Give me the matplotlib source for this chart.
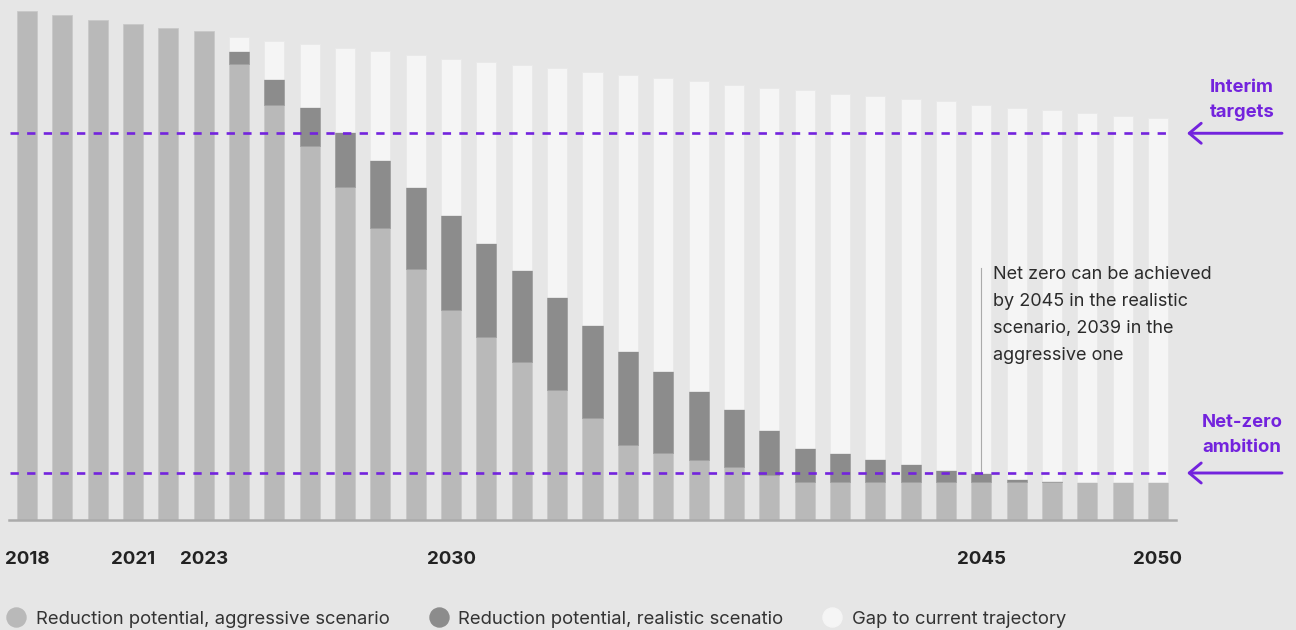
import matplotlib
matplotlib.use("Agg")
import matplotlib.pyplot as plt
from matplotlib.lines import Line2D
import numpy as np

plt.rcParams['font.family'] = ['Inter', 'DejaVu Sans']

# ---------------- data (index, 2018 = 100) ----------------
years = list(range(2018, 2051))
total = [100.0, 99.3, 98.2, 97.5, 96.8, 96.1, 94.9, 94.2, 93.5, 92.8, 92.1,
         91.4, 90.6, 90.0, 89.4, 88.8, 88.1, 87.5, 86.9, 86.3, 85.5, 84.9,
         84.5, 83.7, 83.3, 82.7, 82.3, 81.6, 81.0, 80.6, 80.0, 79.4, 79.0]
realistic = [100.0, 99.3, 98.2, 97.5, 96.8, 96.1, 92.1, 86.7, 81.2, 76.2, 70.7,
             65.4, 59.9, 54.5, 49.1, 43.7, 38.3, 33.2, 29.3, 25.3, 21.7, 17.7,
             14.1, 13.1, 12.0, 10.9, 9.8, 9.2, 8.0, 7.6, 7.3, 7.3, 7.3]
aggressive = [100.0, 99.3, 98.2, 97.5, 96.8, 96.1, 89.6, 81.6, 73.4, 65.4, 57.4,
              49.2, 41.2, 35.9, 30.9, 25.4, 20.0, 14.6, 13.1, 11.7, 10.3, 8.8,
              7.3, 7.3, 7.3, 7.3, 7.3, 7.3, 7.3, 7.3, 7.3, 7.3, 7.3]
tick_years = [2018, 2021, 2023, 2030, 2045, 2050]
interim_target = 76.0
net_zero = 9.15
annot_year = 2045
annot_top = 49.4
annot_text = ("Net zero can be achieved\nby 2045 in the realistic\n"
              "scenario, 2039 in the\naggressive one")
legend_labels = ["Reduction potential, aggressive scenario",
                 "Reduction potential, realistic scenatio",
                 "Gap to current trajectory"]

# ---------------- style ----------------
BG = '#e6e6e6'
LIGHT = '#b9b9b9'
DARK = '#8c8c8c'
GAP = '#f5f5f5'
PURPLE = '#7323dd'
TXT = '#2b2b2b'

W, H = 1296, 630
fig = plt.figure(figsize=(W / 100, H / 100), dpi=100, facecolor=BG)
ax = fig.add_axes([9 / W, 110.5 / H, 1167 / W, 514.5 / H])
ax.set_facecolor(BG)

x = np.arange(len(years))
tot = np.array(total)
real = np.array(realistic)
agg = np.array(aggressive)
seg_real = real - agg
seg_gap = tot - real
bw = 0.566

def lw_for(h):
    return [0.6 if v > 0 else 0 for v in h]

ax.bar(x, agg, bw, color=LIGHT, edgecolor='#c9c9c9', linewidth=lw_for(agg), zorder=2)
ax.bar(x, seg_real, bw, bottom=agg, color=DARK, edgecolor='#a0a0a0',
       linewidth=lw_for(seg_real), zorder=2)
ax.bar(x, seg_gap, bw, bottom=real, color=GAP, edgecolor='#e9e9e9',
       linewidth=lw_for(seg_gap), zorder=2)

ax.set_xlim(-0.51, 32.51)
ax.set_ylim(0, 101.24)

# dashed target lines
x0, x1 = -0.48, 32.29
for yv in (interim_target, net_zero):
    ax.plot([x0, x1], [yv, yv], color=PURPLE, lw=1.9, dashes=(3.15, 3.15),
            solid_capstyle='butt', dash_capstyle='butt', zorder=4)

# annotation line + text (va='baseline' aligns the last line)
ia = years.index(annot_year)
ax.plot([ia, ia], [real[ia], annot_top], color='#ababab', lw=0.8, zorder=3)
ax.annotate(annot_text, xy=(ia, 31.4), xytext=(8.6, 0), textcoords='offset points',
            ha='left', va='baseline', fontsize=13, color=TXT, linespacing=1.78,
            zorder=5)

# spines / ticks
for s in ('top', 'left', 'right'):
    ax.spines[s].set_visible(False)
ax.spines['bottom'].set_color('#ababab')
ax.spines['bottom'].set_linewidth(1.8)
ax.set_yticks([])
ax.set_xticks([years.index(y) for y in tick_years])
ax.set_xticklabels([str(y) for y in tick_years], fontsize=13.5, fontweight='bold',
                   color='#222222')
ax.tick_params(axis='x', length=0, pad=23)

# right-hand labels + arrows
for yv, label, base_px in ((interim_target, "Interim\ntargets", 116.7),
                           (net_zero, "Net-zero\nambition", 451.7)):
    ax.annotate('', xy=(1187, yv), xytext=(1282, yv),
                xycoords=('figure pixels', 'data'),
                textcoords=('figure pixels', 'data'),
                annotation_clip=False,
                arrowprops=dict(arrowstyle='->,head_length=0.43,head_width=0.36',
                                mutation_scale=20, color=PURPLE, lw=2.1,
                                shrinkA=0, shrinkB=0))
    fig.text(1242 / W, (H - base_px) / H, label, ha='center', va='baseline',
             multialignment='center', fontsize=13.3, fontweight='bold',
             color=PURPLE, linespacing=1.62)

# legend
handles = [Line2D([], [], marker='o', linestyle='none', markersize=13.7,
                  markerfacecolor=c, markeredgecolor=c)
           for c in (LIGHT, DARK, GAP)]
fig.legend(handles, legend_labels, loc='center left',
           bbox_to_anchor=(7 / W, (H - 619) / H), ncol=3, frameon=False,
           fontsize=13.3, handlelength=1.0, handletextpad=0.56,
           columnspacing=2.15, borderpad=0, borderaxespad=0,
           labelcolor='#333333')

fig.savefig('out.png', dpi=100, facecolor=BG)
